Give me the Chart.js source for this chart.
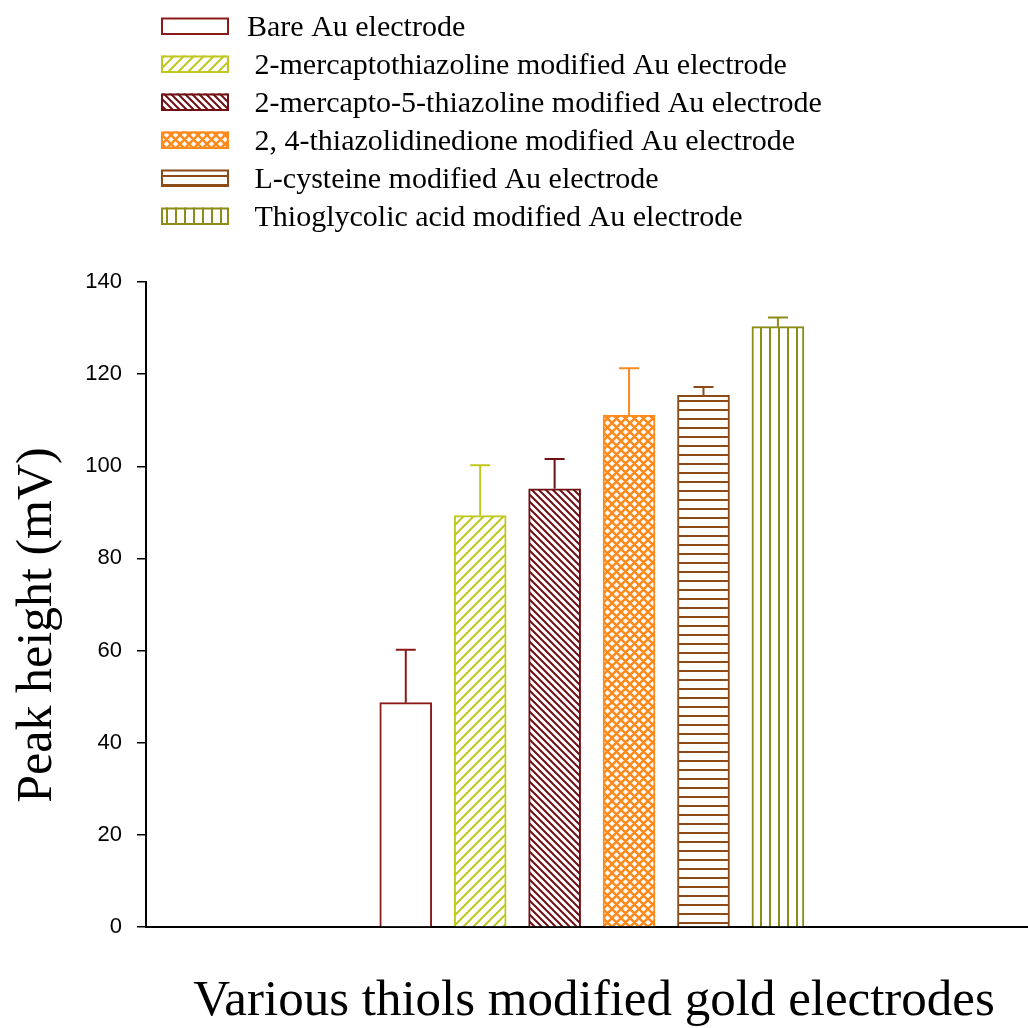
<!DOCTYPE html>
<html><head><meta charset="utf-8">
<script src="https://cdn.jsdelivr.net/npm/chart.js@4.4.0/dist/chart.umd.min.js"></script>
<style>html,body{margin:0;padding:0;background:#fff;} #wrap{width:1028px;height:1028px;}</style>
</head><body><div id="wrap"><canvas id="c" width="1028" height="1028"></canvas></div>
<script>
const categories = ['Bare Au electrode', ' 2-mercaptothiazoline modified Au electrode', ' 2-mercapto-5-thiazoline modified Au electrode', ' 2, 4-thiazolidinedione modified Au electrode', ' L-cysteine modified Au electrode', ' Thioglycolic acid modified Au electrode'];
const peakHeights = [48.7, 89.3, 95.1, 111.1, 115.4, 130.3];
const errors = [11.5, 10.9, 6.5, 10.2, 1.8, 2.0];
const yTicks = [0, 20, 40, 60, 80, 100, 120, 140];
const colors = ['#8B1A1A', '#BFC81E', '#6E1014', '#FF8A1C', '#8B4A16', '#8C8C16'];
const hatches = ['none', 'fdiag', 'bdiag', 'cross', 'horiz', 'vert'];
const xTitle = 'Various thiols modified gold electrodes';
const yTitle = 'Peak height (mV)';

const canvas = document.getElementById('c');
const ctx = canvas.getContext('2d');

function makePattern(kind, color) {
  if (kind === 'none') return '#ffffff';
  const s = {fdiag: 10, bdiag: 7, cross: 9, horiz: 9, vert: 9}[kind];
  const c = document.createElement('canvas'); c.width = s; c.height = s;
  const g = c.getContext('2d');
  g.fillStyle = '#fff'; g.fillRect(0, 0, s, s);
  g.strokeStyle = color; g.lineWidth = kind === 'cross' ? 2.5 : 2;
  g.beginPath();
  if (kind === 'fdiag' || kind === 'cross') {
    g.moveTo(-2, s + 2); g.lineTo(s + 2, -2);
    g.moveTo(-2, 2); g.lineTo(2, -2);
    g.moveTo(s - 2, s + 2); g.lineTo(s + 2, s - 2);
  }
  if (kind === 'bdiag' || kind === 'cross') {
    g.moveTo(-2, -2); g.lineTo(s + 2, s + 2);
    g.moveTo(s - 2, -2); g.lineTo(s + 2, 2);
    g.moveTo(-2, s - 2); g.lineTo(2, s + 2);
  }
  if (kind === 'horiz') { g.moveTo(0, 5); g.lineTo(s, 5); }
  if (kind === 'vert') { g.moveTo(5, 0); g.lineTo(5, s); }
  g.stroke();
  return ctx.createPattern(c, 'repeat');
}
const patterns = hatches.map((h, i) => makePattern(h, colors[i]));

const errorBarPlugin = {
  id: 'errorBars',
  afterDatasetsDraw(chart) {
    const c = chart.ctx;
    const meta = chart.getDatasetMeta(0);
    const ys = chart.scales.y;
    meta.data.forEach((bar, i) => {
      const yTop = ys.getPixelForValue(peakHeights[i] + errors[i]);
      c.save();
      c.strokeStyle = colors[i];
      c.lineWidth = 2;
      c.beginPath();
      c.moveTo(bar.x, bar.y);
      c.lineTo(bar.x, yTop);
      c.moveTo(bar.x - 10, yTop);
      c.lineTo(bar.x + 10, yTop);
      c.stroke();
      c.restore();
    });
  }
};

const legendAndTitlesPlugin = {
  id: 'customLegend',
  afterDraw(chart) {
    const c = chart.ctx;
    c.save();
    categories.forEach((label, i) => {
      const top = 17.5 + i * 38;
      c.fillStyle = patterns[i];
      c.fillRect(161, top, 68, 17.5);
      c.strokeStyle = colors[i];
      c.lineWidth = 2;
      c.strokeRect(162, top + 1, 66, 15.5);
      c.fillStyle = '#000';
      c.font = '30px "Liberation Serif"';
      c.textBaseline = 'alphabetic';
      c.textAlign = 'left';
      c.fillText(label, 247, top + 18.5);
    });
    // axis titles
    c.fillStyle = '#000';
    c.font = '51px "Liberation Serif"';
    c.textAlign = 'center';
    c.textBaseline = 'alphabetic';
    c.fillText(xTitle, 594, 1015);
    c.translate(38, 625);
    c.rotate(-Math.PI / 2);
    c.font = '50px "Liberation Serif"';
    c.textBaseline = 'middle';
    c.fillText(yTitle, 0, 0);
    c.restore();
  }
};

new Chart(ctx, {
  type: 'bar',
  data: {
    datasets: [{
      data: peakHeights.map((v, i) => ({x: i + 1, y: v})),
      backgroundColor: patterns,
      borderColor: colors,
      borderWidth: 2,
      barThickness: 52
    }]
  },
  options: {
    responsive: false,
    animation: false,
    devicePixelRatio: 1,
    layout: {padding: {top: 282, left: 0, right: 0, bottom: 0}},
    plugins: {legend: {display: false}, tooltip: {enabled: false}},
    scales: {
      x: {
        type: 'linear', min: -2.49, max: 9.36, offset: false, z: 1,
        grid: {drawOnChartArea: false, drawTicks: false},
        border: {display: true, color: '#000', width: 2},
        ticks: {display: false},
        title: {display: false, text: xTitle},
        afterFit(s) { s.height = 101; }
      },
      y: {
        min: 0, max: 140, z: 1,
        afterBuildTicks(s) { s.ticks = yTicks.map(v => ({value: v})); },
        ticks: {color: '#000', font: {family: 'Liberation Sans', size: 22}, padding: 15},
        grid: {drawOnChartArea: false, drawTicks: true, tickLength: 9, color: '#000', lineWidth: 1.5},
        border: {color: '#000', width: 2},
        title: {display: false, text: yTitle},
        afterFit(s) { s.width = 146; }
      }
    }
  },
  plugins: [errorBarPlugin, legendAndTitlesPlugin]
});
</script>
</body></html>
